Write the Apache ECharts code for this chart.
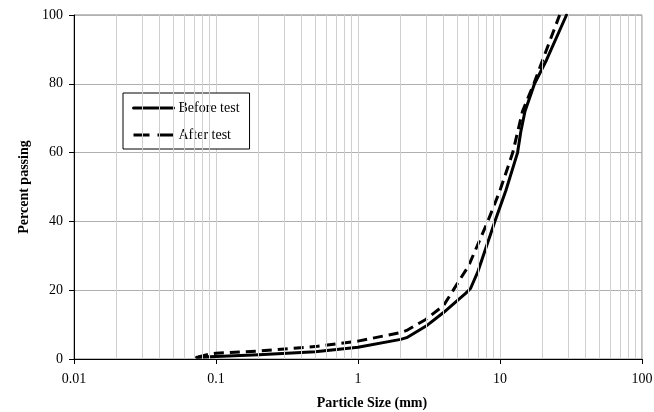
<!DOCTYPE html>
<html>
<head>
<meta charset="utf-8">
<script src="https://cdn.jsdelivr.net/npm/echarts@6/dist/echarts.min.js"></script>
<style>html,body{margin:0;padding:0;background:#fff;}#c{width:654px;height:412px;}</style>
</head>
<body>
<div id="c"></div>
<script>
var beforeTest = [[0.073,0.5],[0.1,0.7],[0.2,1.2],[0.5,2.1],[1,3.4],[2,5.7],[2.2,6.2],[3,9.5],[4,13.5],[5,17],[5.7,19],[6.2,20.5],[7,25.5],[9.2,40],[11,49],[13.3,60],[14,66],[15,72],[17.5,80],[21.3,87],[29.4,100]];
var afterTest = [[0.075,0.6],[0.09,1.4],[0.1,1.7],[0.2,2.3],[0.5,3.6],[1,5.2],[2,7.7],[2.2,8.3],[3,11.5],[4,15.5],[5.2,23],[6,27],[8.2,40],[10,49],[12.3,60],[14.4,72],[17.3,80],[20,87],[26.3,100]];
var minorGrid = [0.02,0.03,0.04,0.05,0.06,0.07,0.08,0.09,0.2,0.3,0.4,0.5,0.6,0.7,0.8,0.9,2,3,4,5,6,7,8,9,20,30,40,50,60,70,80,90];
var xTicks = [0.01,0.1,1,10,100];
var yTicks = [0,20,40,60,80,100];

var font = 'Liberation Serif';
var chart = echarts.init(document.getElementById('c'));
chart.setOption({
  animation: false,
  backgroundColor: '#fff',
  grid: {left: 74, right: 12, top: 15, bottom: 53, show: true, borderColor: '#808080', borderWidth: 1, containLabel: false, outerBoundsMode: 'none'},
  legend: {
    left: 123, top: 93, orient: 'vertical',
    backgroundColor: '#fff', borderColor: '#000', borderWidth: 1,
    padding: [8, 10, 7, 9], itemGap: 13, itemWidth: 40, itemHeight: 14,
    itemStyle: {opacity: 0},
    textStyle: {fontFamily: font, fontSize: 14, color: '#000'},
    data: [
      {name: 'Before test', lineStyle: {width: 3, type: 'solid'}},
      {name: 'After test', lineStyle: {width: 3, type: [16, 8]}}
    ]
  },
  xAxis: {
    type: 'log', logBase: 10, min: 0.01, max: 100,
    name: 'Particle Size (mm)', nameLocation: 'middle', nameGap: 37,
    nameTextStyle: {fontFamily: font, fontSize: 14, fontWeight: 'bold', color: '#000', padding: [0, 0, 0, 28]},
    axisLine: {show: true, lineStyle: {color: '#000', width: 1}},
    axisTick: {show: true, length: 5, lineStyle: {color: '#000'}},
    axisLabel: {fontFamily: font, fontSize: 14, color: '#000', margin: 13,
      formatter: function (v) { for (var i = 0; i < xTicks.length; i++) { if (Math.abs(v - xTicks[i]) / xTicks[i] < 1e-6) return String(xTicks[i]); } return ''; }},
    splitLine: {show: true, lineStyle: {color: '#d0d0d0', width: 1}}
  },
  yAxis: {
    type: 'value', min: 0, max: 100, interval: 20,
    name: 'Percent passing', nameLocation: 'middle', nameGap: 38, nameRotate: 90,
    nameTextStyle: {fontFamily: font, fontSize: 14, fontWeight: 'bold', color: '#000'},
    axisLine: {show: true, lineStyle: {color: '#000', width: 1}},
    axisTick: {show: true, length: 5, lineStyle: {color: '#000'}},
    axisLabel: {fontFamily: font, fontSize: 14, color: '#000', margin: 11},
    splitLine: {show: true, lineStyle: {color: '#b0b0b0', width: 1}}
  },
  series: [
    {
      name: '_grid', type: 'line', data: [], z: 1, silent: true,
      markLine: {
        silent: true, symbol: ['none', 'none'], animation: false,
        label: {show: false},
        lineStyle: {color: '#d0d0d0', width: 1, type: 'solid'},
        emphasis: {disabled: true},
        data: minorGrid.map(function (v) { return {xAxis: v}; })
      }
    },
    {
      name: 'Before test', type: 'line', data: beforeTest, showSymbol: false, symbol: 'none',
      color: '#000', smooth: false, z: 3,
      lineStyle: {color: '#000', width: 3, type: 'solid', join: 'round', cap: 'round'}
    },
    {
      name: 'After test', type: 'line', data: afterTest, showSymbol: false, symbol: 'none',
      color: '#000', smooth: false, z: 3,
      lineStyle: {color: '#000', width: 3, type: [10, 6]}
    }
  ]
});
</script>
</body>
</html>
